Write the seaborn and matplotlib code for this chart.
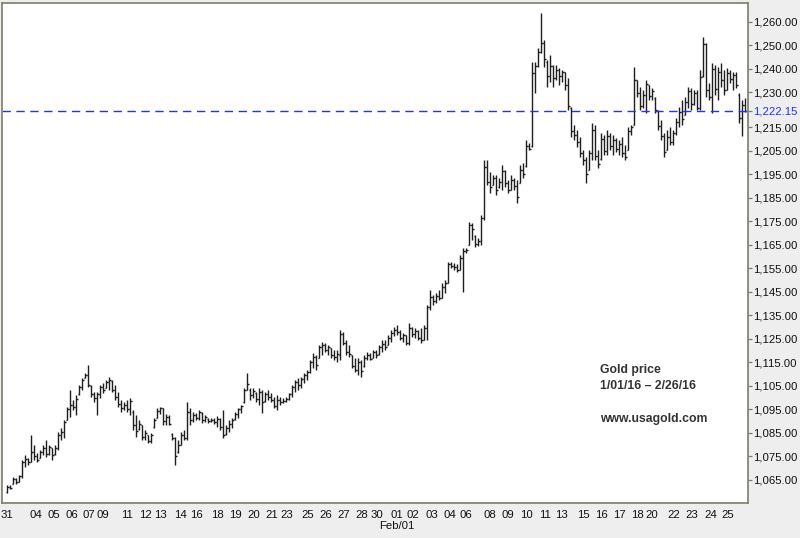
# plot.py - gold price OHLC bars, Jan/Feb 2016

import numpy as np
import matplotlib
matplotlib.use("Agg")
import matplotlib.pyplot as plt
import matplotlib.transforms as mtransforms
import seaborn as sns

# --- data (4h bars, one per slot) ---
opens = [
    1060, 1062, 1063.5, 1065.5, 1064.2, 1066.5, 1072.5, 1074, 1072.8, 1077,
    1075, 1074.5, 1077, 1078.5, 1076, 1078.5, 1076, 1078.5, 1084, 1085.5,
    1090.5, 1095, 1097, 1096, 1101.5, 1104.5, 1108.5, 1109.5, 1105, 1101.5,
    1100, 1101.5, 1104.5, 1104, 1106.5, 1107, 1103.5, 1100.5, 1097.5, 1095.5,
    1097, 1095, 1094, 1088.5, 1086.5, 1088.5, 1083.5, 1084, 1081.5, 1087.5,
    1091.5, 1094.5, 1095.5, 1090, 1092, 1084.5, 1083, 1077, 1080, 1084,
    1083, 1094, 1090.5, 1092.5, 1091.5, 1093.5, 1090.5, 1091, 1090, 1090.5,
    1089.5, 1091, 1087.5, 1084.5, 1087, 1089, 1091, 1093, 1095, 1098,
    1103.5, 1103.5, 1101, 1102, 1099.5, 1102.5, 1098.5, 1101.5, 1100.5, 1099,
    1096.5, 1099, 1098, 1098.5, 1099.5, 1101.5, 1104.5, 1106.5, 1105.5, 1108,
    1109.5, 1111, 1115, 1117.5, 1117, 1121.5, 1122.5, 1120.5, 1121, 1118,
    1117.5, 1118, 1127, 1123.5, 1119.5, 1118, 1113.5, 1112, 1115, 1113.5,
    1117, 1118, 1117, 1119.5, 1118.5, 1121.5, 1123, 1122.5, 1125.5, 1127.5,
    1129, 1128, 1125.5, 1126.5, 1123.5, 1129.5, 1127, 1128.5, 1125.5, 1124.5,
    1129.5, 1138.5, 1143, 1141, 1143.5, 1142.5, 1147, 1149, 1157, 1156,
    1155.5, 1154.5, 1159.5, 1162.5, 1165, 1173.5, 1169, 1165.5, 1166.5, 1176.5,
    1198, 1192, 1190.5, 1193.5, 1189.5, 1192, 1196.5, 1191.5, 1188.5, 1192.5,
    1190, 1191.5, 1197, 1198.5, 1207, 1207, 1238, 1241, 1247, 1251,
    1243, 1237, 1241, 1236, 1239.5, 1237, 1238.5, 1233, 1223.5, 1213.5,
    1212, 1209, 1204, 1201, 1197, 1204, 1214, 1203, 1201.5, 1210,
    1205, 1211.5, 1207, 1209.5, 1206, 1208, 1204, 1205.5, 1213.5, 1216,
    1235, 1229.5, 1224, 1229, 1233, 1228.5, 1227.5, 1222, 1215.5, 1211.5,
    1205.5, 1211, 1209, 1212.5, 1217.5, 1221.5, 1220.5, 1226, 1230.5, 1225,
    1229.5, 1223.5, 1237, 1250.5, 1231, 1228, 1240, 1231.5, 1238.5, 1235,
    1231, 1238, 1235.5, 1237.5, 1229, 1219, 1224.5,
]
highs = [
    1062.8, 1062.8, 1066.2, 1065.8, 1067.1, 1073.5, 1075.6, 1074.3, 1084.1, 1079.9,
    1076.4, 1077.7, 1079.9, 1082.0, 1079.9, 1078.6, 1079.9, 1085.4, 1087.1, 1090.5,
    1096.0, 1103.3, 1099.0, 1101.1, 1105.4, 1108.4, 1110.5, 1113.9, 1105.4, 1102.4,
    1102.4, 1105.4, 1106.2, 1107.5, 1108.8, 1107.5, 1105.4, 1102.4, 1099.0, 1098.2,
    1099.0, 1099.9, 1094.8, 1092.6, 1090.5, 1088.4, 1086.2, 1084.1, 1084.9, 1091.3,
    1095.6, 1096.0, 1095.6, 1093.0, 1092.6, 1084.9, 1083.3, 1082.0, 1085.4, 1086.2,
    1098.2, 1095.6, 1093.9, 1093.5, 1094.8, 1093.9, 1092.6, 1091.3, 1091.3, 1091.3,
    1092.2, 1091.3, 1094.8, 1088.4, 1090.5, 1091.3, 1093.9, 1095.6, 1096.9, 1104.1,
    1110.5, 1104.1, 1104.1, 1102.4, 1104.1, 1103.3, 1102.4, 1103.3, 1102.0, 1100.3,
    1101.1, 1100.3, 1099.9, 1100.3, 1102.0, 1105.4, 1107.5, 1108.4, 1108.8, 1110.5,
    1111.8, 1116.0, 1119.0, 1118.2, 1122.4, 1123.7, 1123.3, 1122.4, 1121.1, 1120.3,
    1120.3, 1128.8, 1127.9, 1124.5, 1122.4, 1118.2, 1116.9, 1116.9, 1116.0, 1118.2,
    1119.4, 1119.0, 1120.3, 1120.3, 1122.4, 1124.5, 1124.5, 1126.7, 1128.8, 1130.1,
    1130.9, 1128.8, 1127.5, 1126.7, 1131.8, 1130.1, 1129.6, 1128.8, 1129.6, 1130.9,
    1139.4, 1145.8, 1143.7, 1144.5, 1145.8, 1148.8, 1150.1, 1157.7, 1157.7, 1157.3,
    1156.9, 1160.7, 1163.7, 1163.7, 1174.7, 1174.3, 1169.2, 1167.9, 1177.7, 1201.1,
    1201.1, 1196.0, 1194.7, 1194.7, 1193.5, 1199.0, 1196.9, 1192.6, 1194.7, 1193.5,
    1192.6, 1199.0, 1199.8, 1209.6, 1208.4, 1242.8, 1242.8, 1248.8, 1263.7, 1252.2,
    1243.7, 1245.8, 1241.5, 1241.5, 1240.3, 1239.4, 1238.6, 1236.0, 1223.7, 1216.0,
    1213.9, 1210.9, 1205.4, 1202.4, 1205.4, 1216.9, 1216.0, 1205.4, 1212.6, 1211.8,
    1213.9, 1212.6, 1211.8, 1210.5, 1209.6, 1210.9, 1207.5, 1215.2, 1216.0, 1240.7,
    1235.2, 1232.2, 1230.9, 1235.2, 1233.0, 1231.8, 1227.9, 1222.4, 1218.1, 1212.6,
    1213.9, 1215.2, 1213.9, 1219.0, 1223.7, 1226.7, 1227.9, 1232.2, 1231.8, 1230.9,
    1230.9, 1239.4, 1253.5, 1250.9, 1233.9, 1242.4, 1241.5, 1240.7, 1242.4, 1239.4,
    1240.3, 1239.4, 1238.6, 1238.6, 1229.6, 1226.7, 1227.5,
]
lows = [
    1059.4, 1061.1, 1063.3, 1063.3, 1064.1, 1065.8, 1070.5, 1071.3, 1072.6, 1073.5,
    1072.6, 1074.3, 1075.6, 1074.7, 1075.6, 1073.5, 1075.6, 1077.7, 1082.0, 1082.8,
    1090.5, 1091.8, 1094.8, 1092.6, 1101.1, 1103.3, 1108.4, 1104.5, 1100.3, 1098.2,
    1092.6, 1099.9, 1102.0, 1104.1, 1103.3, 1102.4, 1099.0, 1096.0, 1093.9, 1094.8,
    1093.9, 1092.6, 1086.2, 1083.3, 1086.2, 1082.0, 1082.0, 1080.7, 1080.7, 1087.1,
    1091.3, 1093.0, 1088.4, 1088.4, 1088.4, 1082.0, 1071.3, 1076.4, 1079.9, 1082.0,
    1082.0, 1088.4, 1089.6, 1090.5, 1090.5, 1089.2, 1089.6, 1089.2, 1089.6, 1088.8,
    1087.5, 1086.2, 1082.8, 1084.1, 1085.4, 1087.1, 1090.5, 1091.3, 1093.5, 1097.7,
    1103.3, 1099.0, 1099.9, 1098.2, 1096.9, 1093.5, 1098.2, 1099.0, 1098.2, 1095.6,
    1094.8, 1096.9, 1097.7, 1098.2, 1099.0, 1100.3, 1102.4, 1103.3, 1104.1, 1106.2,
    1107.5, 1110.5, 1112.6, 1111.8, 1116.9, 1118.2, 1119.4, 1118.2, 1116.9, 1116.0,
    1115.2, 1116.0, 1122.4, 1118.2, 1117.3, 1112.6, 1110.9, 1109.6, 1108.8, 1113.0,
    1116.0, 1116.0, 1116.9, 1116.9, 1118.2, 1119.4, 1120.3, 1122.4, 1123.7, 1126.2,
    1126.7, 1124.5, 1123.7, 1122.4, 1122.4, 1125.8, 1125.4, 1124.5, 1123.3, 1124.5,
    1124.5, 1137.3, 1139.4, 1140.3, 1141.6, 1142.4, 1144.5, 1148.8, 1155.2, 1154.3,
    1153.5, 1154.3, 1145.0, 1161.6, 1165.0, 1167.1, 1164.1, 1164.5, 1165.0, 1175.6,
    1190.5, 1187.1, 1190.5, 1186.2, 1189.2, 1188.4, 1189.6, 1187.1, 1188.4, 1188.4,
    1182.8, 1191.3, 1193.5, 1198.1, 1205.4, 1206.6, 1229.6, 1240.7, 1246.6, 1240.7,
    1232.2, 1234.3, 1232.2, 1235.2, 1233.0, 1234.3, 1230.9, 1222.4, 1210.9, 1209.6,
    1206.6, 1202.4, 1199.0, 1191.3, 1196.9, 1201.1, 1201.1, 1197.7, 1201.1, 1203.3,
    1203.3, 1205.4, 1203.3, 1204.5, 1203.3, 1202.4, 1201.1, 1205.4, 1211.8, 1216.0,
    1227.9, 1222.4, 1223.2, 1221.1, 1226.7, 1226.7, 1221.1, 1213.9, 1209.6, 1202.4,
    1205.4, 1207.5, 1207.5, 1211.8, 1215.2, 1216.0, 1220.3, 1223.2, 1222.4, 1224.5,
    1222.4, 1222.4, 1236.4, 1227.9, 1226.7, 1221.1, 1228.8, 1226.7, 1232.2, 1228.8,
    1230.9, 1233.9, 1230.9, 1231.8, 1216.9, 1211.3, 1221.8,
]
closes = [
    1062, 1061.8, 1065.5, 1064.2, 1066.5, 1072.5, 1074, 1072.5, 1077, 1075,
    1073.5, 1077, 1078.5, 1076, 1079, 1075.5, 1078.5, 1084, 1085.5, 1089.5,
    1095, 1097, 1096, 1099.5, 1104.5, 1107.5, 1109.5, 1105.5, 1101.5, 1100,
    1101.5, 1104.5, 1103.5, 1106.5, 1107.5, 1103.5, 1100.5, 1097.5, 1095.5, 1097,
    1095, 1098.5, 1088.5, 1086, 1089, 1083.5, 1085, 1081.5, 1084, 1090.5,
    1094.5, 1095.5, 1090, 1092, 1089, 1083, 1075, 1080, 1084, 1083,
    1094, 1090.5, 1092.5, 1091.5, 1094, 1090.5, 1092, 1090, 1090.5, 1089.5,
    1091, 1087.5, 1084, 1087, 1089, 1090.5, 1093, 1095, 1096.5, 1103.5,
    1106, 1101, 1103, 1099.5, 1102.5, 1098, 1101.5, 1100.5, 1099, 1096.5,
    1099, 1098, 1098.5, 1099.5, 1101.5, 1104.5, 1106.5, 1105.5, 1108, 1109.5,
    1111, 1115, 1117.5, 1114, 1121.5, 1122.5, 1120.5, 1121.5, 1118, 1117.5,
    1118.5, 1127, 1123.5, 1119.5, 1118.5, 1113.5, 1112, 1115, 1111.5, 1117,
    1118, 1116.5, 1119.5, 1118, 1121.5, 1123, 1121.5, 1125.5, 1127.5, 1129,
    1128, 1125.5, 1126.5, 1123.5, 1129.5, 1127, 1128.5, 1125.5, 1124.5, 1129.5,
    1138.5, 1143, 1141, 1143.5, 1142.5, 1147, 1149, 1157, 1156, 1155.5,
    1154.5, 1159.5, 1162.5, 1163, 1173.5, 1172, 1165.5, 1166.5, 1176.5, 1198,
    1192, 1189.5, 1193.5, 1188.5, 1192, 1196.5, 1191.5, 1188.5, 1192.5, 1190,
    1185.5, 1197, 1195, 1207, 1206, 1238, 1241, 1247, 1251, 1244,
    1237, 1241, 1236, 1239.5, 1237, 1238.5, 1233, 1224, 1213.5, 1212,
    1209, 1204, 1201, 1195, 1204, 1214, 1203, 1199.5, 1210, 1205,
    1211.5, 1207, 1209.5, 1206, 1208, 1204, 1202.5, 1213.5, 1215, 1235,
    1229.5, 1224, 1229, 1233.5, 1228.5, 1230.5, 1222.5, 1215.5, 1211.5, 1204.5,
    1211, 1209, 1212.5, 1217.5, 1221.5, 1218.5, 1226, 1230.5, 1225, 1229.5,
    1223.5, 1236.5, 1250.5, 1231, 1228, 1240, 1231.5, 1238.5, 1235, 1231,
    1238, 1235.5, 1237.5, 1233, 1219, 1224.5, 1222.15,
]

last_price = 1222.15

# day labels and the bar slot where each sits
day_labels = ["31", "04", "05", "06", "07", "09", "11", "12", "13", "14",
              "16", "18", "19", "20", "21", "23", "25", "26", "27", "28",
              "30", "01", "02", "03", "04", "06", "08", "09", "10", "11",
              "13", "15", "16", "17", "18", "20", "22", "23", "24", "25"]
day_pos = [0, 9.7, 15.7, 21.7, 27.3, 32, 40, 46, 51.3, 57.7,
           63, 70, 76.3, 82.3, 88.3, 93.3, 100.3, 106.3, 112.3, 118.3,
           123.3, 130, 135.3, 141.7, 147.7, 153, 161, 167, 173.3, 179.3,
           184.7, 192.3, 198.3, 204, 210, 215, 222.3, 228.3, 234.7, 240.3]
month_label = "Feb/01"
month_pos = 130

price_ticks = [1065, 1075, 1085, 1095, 1105, 1115, 1125, 1135, 1145, 1155,
               1165, 1175, 1185, 1195, 1205, 1215, 1222.15, 1230, 1240, 1250, 1260]

sns.set_style("white")
plt.rcParams['font.family'] = ['Liberation Sans', 'DejaVu Sans']

frame = "#7d7d6a"
bar_col = "#1e1e1e"
blue = "#2233ee"

fig = plt.figure(figsize=(8, 5.38), dpi=100, facecolor="#eeeeee")
ax = fig.add_axes([0.0025, 0.065, 0.9325, 0.93])
ax.set_facecolor("white")

idx = np.arange(len(closes))
ax.vlines(idx, lows, highs, color=bar_col, lw=1.0)
ax.hlines(opens, idx - 0.5, idx, color=bar_col, lw=1.0)
ax.hlines(closes, idx, idx + 0.5, color=bar_col, lw=1.0)

# last price line
ax.axhline(last_price, color=blue, lw=1.0, ls=(0, (6, 4)))

ax.set_xlim(-1.67, 247)
ax.set_ylim(1055.2, 1268.1)

ax.yaxis.tick_right()
ax.set_yticks(price_ticks)
ax.set_yticklabels([f"{v:,.2f}" for v in price_ticks])
ax.set_xticks(day_pos)
ax.set_xticklabels(day_labels)

ax.tick_params(axis="y", direction="out", length=3, width=0.9, color=frame,
               labelsize=8.2, pad=0.5, labelcolor="#111111")
ax.tick_params(axis="x", direction="out", length=3, width=0.9, color=frame,
               labelsize=8.2, pad=2, labelcolor="#111111")

k = price_ticks.index(last_price)
ax.yaxis.get_major_ticks()[k].label2.set_color(blue)
ax.yaxis.get_major_ticks()[k].tick2line.set_color(blue)

# month marker under the first February day
trans = mtransforms.blended_transform_factory(ax.transData, ax.transAxes)
ax.text(month_pos, -0.035, month_label, transform=trans, fontsize=8.2,
        color="#111111", ha="center", va="top")

for s in ax.spines.values():
    s.set_color(frame)
    s.set_linewidth(1.2)

ax.text(0.8016, 0.2655, "Gold price", transform=ax.transAxes,
        fontsize=8.8, fontweight="bold", color="#333333", va="center")
ax.text(0.8016, 0.2335, "1/01/16 \u2013 2/26/16", transform=ax.transAxes,
        fontsize=8.8, fontweight="bold", color="#333333", va="center")
ax.text(0.8016, 0.1675, "www.usagold.com", transform=ax.transAxes,
        fontsize=8.8, fontweight="bold", color="#333333", va="center")

fig.savefig("out.png", dpi=100, facecolor=fig.get_facecolor())
